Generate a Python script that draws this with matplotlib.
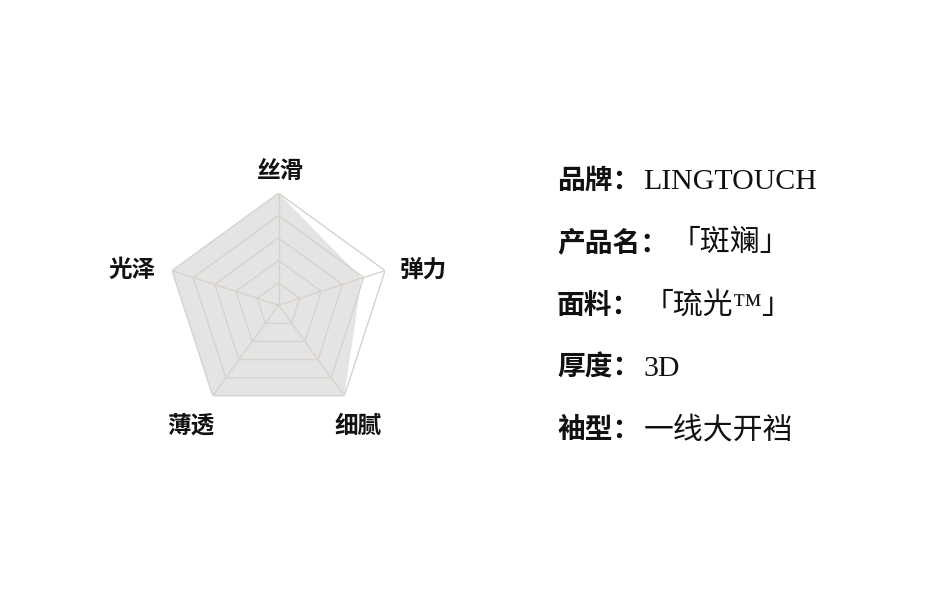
import numpy as np
import matplotlib.pyplot as plt

plt.rcParams['font.family'] = ['Noto Sans CJK SC', 'DejaVu Sans']

# radar data (clockwise from top)
axis_names = ['丝滑', '弹力', '细腻', '薄透', '光泽']
scores = [1.0, 0.78, 1.0, 1.0, 1.0]
levels = [0.2, 0.4, 0.6, 0.8, 1.0]

# product info on the right
info_keys = ['品牌：', '产品名：', '面料：', '厚度：', '袖型：']
info_values = ['LINGTOUCH', '「斑斓」', '「琉光™」', '3D', '一线大开裆']

grid_color = '#d9d2ca'
fill_color = '#e4e4e4'

fig = plt.figure(figsize=(9.5, 6.11), dpi=100)
ax = fig.add_axes([0.1753, 0.3172, 0.2358, 0.3666], polar=True)
ax.set_theta_offset(np.pi / 2)
ax.set_theta_direction(-1)
ax.set_ylim(0, 1)
ax.set_axis_off()

angles = np.linspace(0, 2 * np.pi, len(axis_names), endpoint=False)
closed = np.append(angles, angles[0])

# filled series
ax.fill(closed, scores + scores[:1], color=fill_color, lw=0, zorder=1)

# pentagon grid
for lv in levels:
    ax.plot(closed, [lv] * len(closed), color=grid_color, lw=1, zorder=2)
for a in angles:
    ax.plot([a, a], [0, 1], color=grid_color, lw=1, zorder=2)

# axis names, offset in pixels from the outer vertex
offsets = [(1.5, 21), (38.5, 1), (14, -30), (-22, -30), (-39.5, 1)]
for a, name, off in zip(angles, axis_names, offsets):
    ax.annotate(name, xy=(a, 1.0), xytext=off, textcoords='offset pixels',
                ha='center', va='center', fontsize=17, fontweight='bold',
                color='#111111', annotation_clip=False)

# info block
baselines = [189, 251, 314, 376, 438]
for key, val, yb in zip(info_keys, info_values, baselines):
    t = fig.text(557 / 950, 1 - yb / 611, key, fontsize=20, fontweight='bold',
                 va='baseline', ha='left', color='#111111')
    ax.annotate(val, xy=(1, 0), xycoords=t, xytext=(3, 0),
                textcoords='offset pixels', va='bottom', ha='left',
                fontsize=21.5, color='#111111',
                family=['Liberation Serif', 'Noto Sans CJK SC'],
                annotation_clip=False)

fig.savefig('out.png', dpi=100, facecolor='white')
